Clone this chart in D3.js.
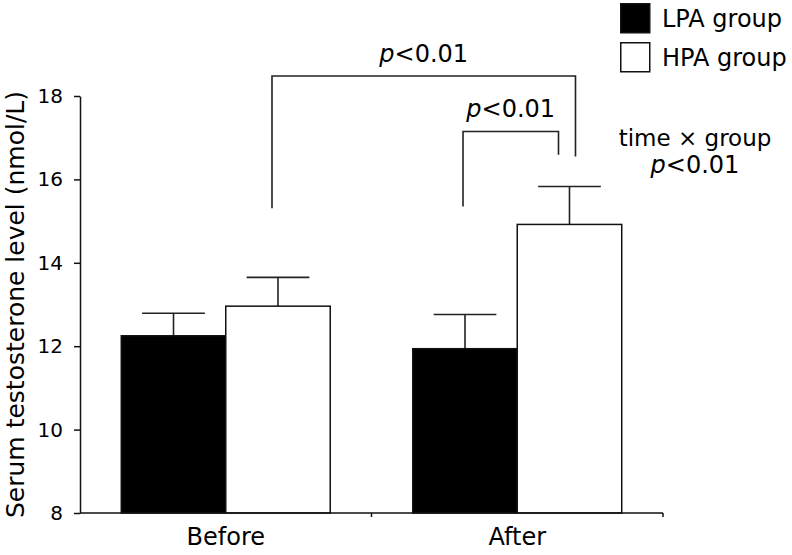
<!DOCTYPE html>
<html>
<head>
<meta charset="utf-8">
<script src="https://cdn.jsdelivr.net/npm/d3@7"></script>
<style>
  body { margin: 0; background: #fff; }
  svg text { font-family: "DejaVu Sans", Verdana, sans-serif; fill: #000; }
</style>
</head>
<body>
<div id="chart"></div>
<script>
// data
const times = ['Before', 'After']
const groups = ['LPA group', 'HPA group']
const groupFill = ['#000', '#fff']
const lpaMean = [12.25, 11.94]
const lpaSD = [0.54, 0.82]
const hpaMean = [12.96, 14.92]
const hpaSD = [0.69, 0.91]
const yTicks = [8, 10, 12, 14, 16, 18]

// brackets: [time, group index, dx] for each leg, y values for top and leg ends
const brackets = [
  { label: 'p<0.01', from: ['Before', 1, -6], to: ['After', 1, 6], top: 18.48, leftEnd: 15.31, rightEnd: 16.55 },
  { label: 'p<0.01', from: ['After', 0, -2], to: ['After', 1, -11], top: 17.15, leftEnd: 15.35, rightEnd: 16.59 }
]

const width = 792, height = 555

const svg = d3.select('#chart').append('svg')
  .attr('width', width)
  .attr('height', height)

const x = d3.scaleBand().domain(times).range([80, 663]).paddingInner(0).paddingOuter(0)
const xg = d3.scaleBand().domain(d3.range(groups.length)).range([0, x.bandwidth()]).paddingInner(0).paddingOuter(0.395)
const y = d3.scaleLinear().domain([8, 18]).range([513, 96])

const rows = []
times.forEach((t, i) => {
  rows.push({ time: t, g: 0, mean: lpaMean[i], sd: lpaSD[i] })
  rows.push({ time: t, g: 1, mean: hpaMean[i], sd: hpaSD[i] })
})

const barCenter = (t, g) => x(t) + xg(g) + xg.bandwidth() / 2

// error bars (drawn first, stem sits on the bar)
const capW = xg.bandwidth() * 0.6
const err = svg.append('g').attr('stroke', '#222').attr('stroke-width', 1.6)
rows.forEach(d => {
  const cx = barCenter(d.time, d.g)
  err.append('line')
    .attr('x1', cx).attr('x2', cx)
    .attr('y1', y(d.mean)).attr('y2', y(d.mean + d.sd))
  err.append('line')
    .attr('x1', cx - capW / 2).attr('x2', cx + capW / 2)
    .attr('y1', y(d.mean + d.sd)).attr('y2', y(d.mean + d.sd))
})

// bars
svg.append('g').selectAll('rect')
  .data(rows)
  .join('rect')
    .attr('x', d => x(d.time) + xg(d.g))
    .attr('width', xg.bandwidth())
    .attr('y', d => y(d.mean))
    .attr('height', d => y(8) - y(d.mean))
    .attr('fill', d => groupFill[d.g])
    .attr('stroke', '#111')
    .attr('stroke-width', 1.5)

// y axis
const yAxis = svg.append('g')
  .attr('transform', 'translate(80,0)')
  .call(d3.axisLeft(y).tickValues(yTicks).tickSize(6).tickPadding(11).tickSizeOuter(0))
yAxis.select('.domain').attr('stroke', '#111').attr('stroke-width', 1.5)
yAxis.selectAll('.tick line').attr('stroke', '#111').attr('stroke-width', 1.5)
yAxis.selectAll('.tick text')
  .style('font-family', '"DejaVu Sans", Verdana, sans-serif')
  .style('font-size', '20px')
  .attr('fill', '#000')

// x axis: line with ticks on the band boundaries
const xAxis = svg.append('g')
xAxis.append('line')
  .attr('x1', x.range()[0]).attr('x2', x.range()[1])
  .attr('y1', y(8)).attr('y2', y(8))
  .attr('stroke', '#111').attr('stroke-width', 1.5)
times.forEach(t => {
  xAxis.append('line')
    .attr('x1', x(t) + x.bandwidth()).attr('x2', x(t) + x.bandwidth())
    .attr('y1', y(8)).attr('y2', y(8) + 4)
    .attr('stroke', '#111').attr('stroke-width', 1.5)
  xAxis.append('text')
    .attr('x', x(t) + x.bandwidth() / 2)
    .attr('y', 545)
    .attr('text-anchor', 'middle')
    .style('font-size', '24px')
    .text(t)
})

// y label
svg.append('text')
  .attr('transform', `translate(24,${(y(8) + y(18)) / 2}) rotate(-90)`)
  .attr('text-anchor', 'middle')
  .style('font-size', '25px')
  .text('Serum testosterone level (nmol/L)')

// significance brackets
const pText = (sel, cx, cy) => {
  const t = sel.append('text')
    .attr('x', cx).attr('y', cy)
    .attr('text-anchor', 'middle')
    .style('font-size', '24px')
  t.append('tspan').style('font-style', 'italic').text('p')
  t.append('tspan').text('<0.01')
}
const br = svg.append('g')
brackets.forEach(b => {
  const x1 = barCenter(b.from[0], b.from[1]) + b.from[2]
  const x2 = barCenter(b.to[0], b.to[1]) + b.to[2]
  br.append('path')
    .attr('d', d3.line()([[x1, y(b.leftEnd)], [x1, y(b.top)], [x2, y(b.top)], [x2, y(b.rightEnd)]]))
    .attr('fill', 'none')
    .attr('stroke', '#222')
    .attr('stroke-width', 1.6)
  pText(br, (x1 + x2) / 2, y(b.top) - 14)
})

// legend
const legend = svg.append('g').attr('transform', 'translate(620,3)')
groups.forEach((g, i) => {
  const row = legend.append('g').attr('transform', `translate(0,${i * 39})`)
  row.append('rect')
    .attr('x', 0.75).attr('y', 0.75)
    .attr('width', 29).attr('height', 29)
    .attr('fill', groupFill[i])
    .attr('stroke', '#111')
    .attr('stroke-width', 1.5)
  row.append('text')
    .attr('x', 42).attr('y', 24)
    .style('font-size', '24px')
    .text(g)
})

// interaction note
svg.append('text')
  .attr('x', 695).attr('y', 146)
  .attr('text-anchor', 'middle')
  .style('font-size', '23px')
  .text('time × group')
pText(svg, 695, 173)
</script>
</body>
</html>
